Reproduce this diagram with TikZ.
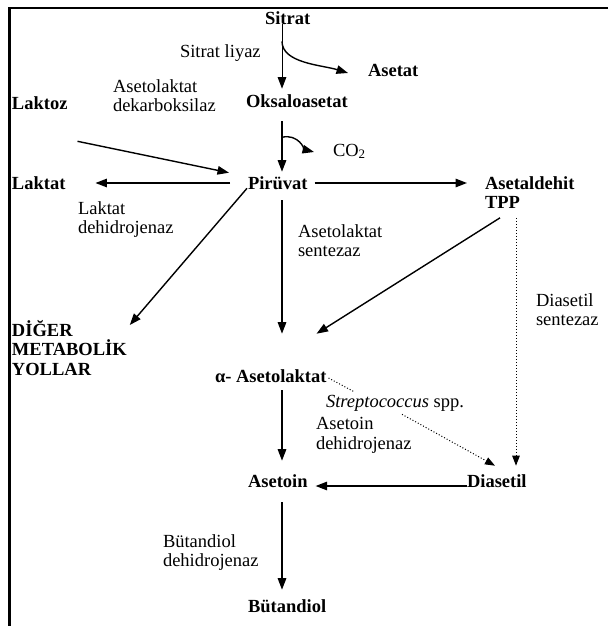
\documentclass[tikz,border=0pt]{standalone}
\usepackage{fontspec}
\setmainfont{Liberation Serif}
\usetikzlibrary{arrows.meta,calc}
\tikzset{
  base/.style={inner sep=0pt, outer sep=0pt, font=\fontsize{18.5}{19.5}\selectfont},
  lbl/.style={base, anchor=west, text height=12.6pt, text depth=0pt},
  lbltwo/.style={base, anchor=north west, align=left},
  met/.style={lbl, font=\fontsize{18.5}{19.5}\selectfont\bfseries},
  mettwo/.style={lbltwo, font=\fontsize{18.5}{19.5}\selectfont\bfseries},
  arr/.style={draw, line width=1.4pt, -{Triangle[length=11.5pt,width=8.5pt]}},
  thinarr/.style={draw, line width=1pt, -{Triangle[length=11.5pt,width=8.5pt]}},
  dotarr/.style={draw, line width=1pt, dotted, -{Triangle[length=10pt,width=7.5pt]}},
  dotline/.style={draw, line width=1pt, dotted},
  frame/.style={draw, line width=2.4pt}
}
\begin{document}
\begin{tikzpicture}[x=1pt,y=-1pt]
\useasboundingbox (0,0) rectangle (608,626);
\draw[frame] (608,7.8) -- (9.5,7.8) -- (9.5,626);
\coordinate (axis) at (282,0);
\coordinate (vdot) at (516,0);
% metabolites
\node[met] (sitrat) at (265,18) {Sitrat};
\node[met] (asetat) at (368,70) {Asetat};
\node[met] (laktoz) at (12,103) {Laktoz};
\node[met] (oksalo) at (246,101) {Oksaloasetat};
\node[met] (laktat) at (12,183) {Laktat};
\node[met] (piruvat) at (248,183) {Pirüvat};
\node[mettwo] (asetald) at (485,176.5) {Asetaldehit\\TPP};
\node[mettwo] (diger) at (12,320) {DİĞER\\METABOLİK\\YOLLAR};
\node[met] (alpha) at (215,376) {α- Asetolaktat};
\node[met] (asetoin) at (248,481) {Asetoin};
\node[met] (diasetil) at (467,481) {Diasetil};
\node[met] (butandiol) at (248,606) {Bütandiol};
% enzyme labels
\node[lbl] (liyaz) at (180,51) {Sitrat liyaz};
\node[lbltwo] (adek) at (113,79.5) {Asetolaktat\\dekarboksilaz};
\node[lbl] (co2) at (333,150) {CO\textsubscript{2}};
\node[lbltwo] (ldh) at (78,201.5) {Laktat\\dehidrojenaz};
\node[lbltwo] (asent) at (298,224.5) {Asetolaktat\\sentezaz};
\node[lbltwo] (dsent) at (536,293.5) {Diasetil\\sentezaz};
\node[lbl] (strep) at (326,401) {\textit{Streptococcus} spp.};
\node[lbltwo] (adh) at (316,417.5) {Asetoin\\dehidrojenaz};
\node[lbltwo] (bdh) at (163,534.5) {Bütandiol\\dehidrojenaz};
% connectors
\draw[thinarr] (sitrat.south -| axis) -- ($(oksalo.north -| axis)+(0,-6)$);
\draw[arr] ($(sitrat.south -| axis)+(0,17)$) .. controls +(0,22) and +(-26,-8) .. ($(asetat.west)+(-20,3)$);
\draw[arr] ($(laktoz.south east)+(10,32)$) -- ($(piruvat.north west)+(-19,-4)$);
\draw[arr] ($(oksalo.south -| axis)+(0,14)$) -- ($(piruvat.north -| axis)+(0,-5)$);
\draw[arr] ($(oksalo.south -| axis)+(0,30)$) .. controls +(16,-4) and +(-8,-2) .. ($(co2.west)+(-19,2)$);
\draw[arr] ($(piruvat.west)+(-18,0)$) -- ($(laktat.east)+(30,0)$);
\draw[arr] ($(piruvat.east)+(7,0)$) -- ($(asetald.north west)+(-18,6.5)$);
\draw[arr] ($(piruvat.south west)+(-1,-1)$) -- ($(diger.north east)+(3,5)$);
\draw[arr] ($(piruvat.south -| axis)+(0,11)$) -- ($(alpha.north -| axis)+(0,-36)$);
\draw[arr] ($(asetald.south west)+(15,9)$) -- ($(alpha.north east)+(-10,-36)$);
\draw[dotarr] ($(asetald.south -| vdot)+(0,9)$) -- ($(diasetil.north -| vdot)+(0,-9)$);
\draw[dotline] ($(alpha.east)+(2,2)$) -- ($(strep.north west)+(28,-3)$);
\draw[dotarr] ($(strep.south west)+(76,7)$) -- ($(diasetil.north west)+(28,-9)$);
\draw[arr] ($(alpha.south -| axis)+(0,8)$) -- ($(asetoin.north -| axis)+(0,-14)$);
\draw[arr] ($(diasetil.west)+(0,5)$) -- ($(asetoin.east)+(8,5)$);
\draw[arr] ($(asetoin.south -| axis)+(0,15)$) -- ($(butandiol.north -| axis)+(0,-10)$);
\end{tikzpicture}
\end{document}
